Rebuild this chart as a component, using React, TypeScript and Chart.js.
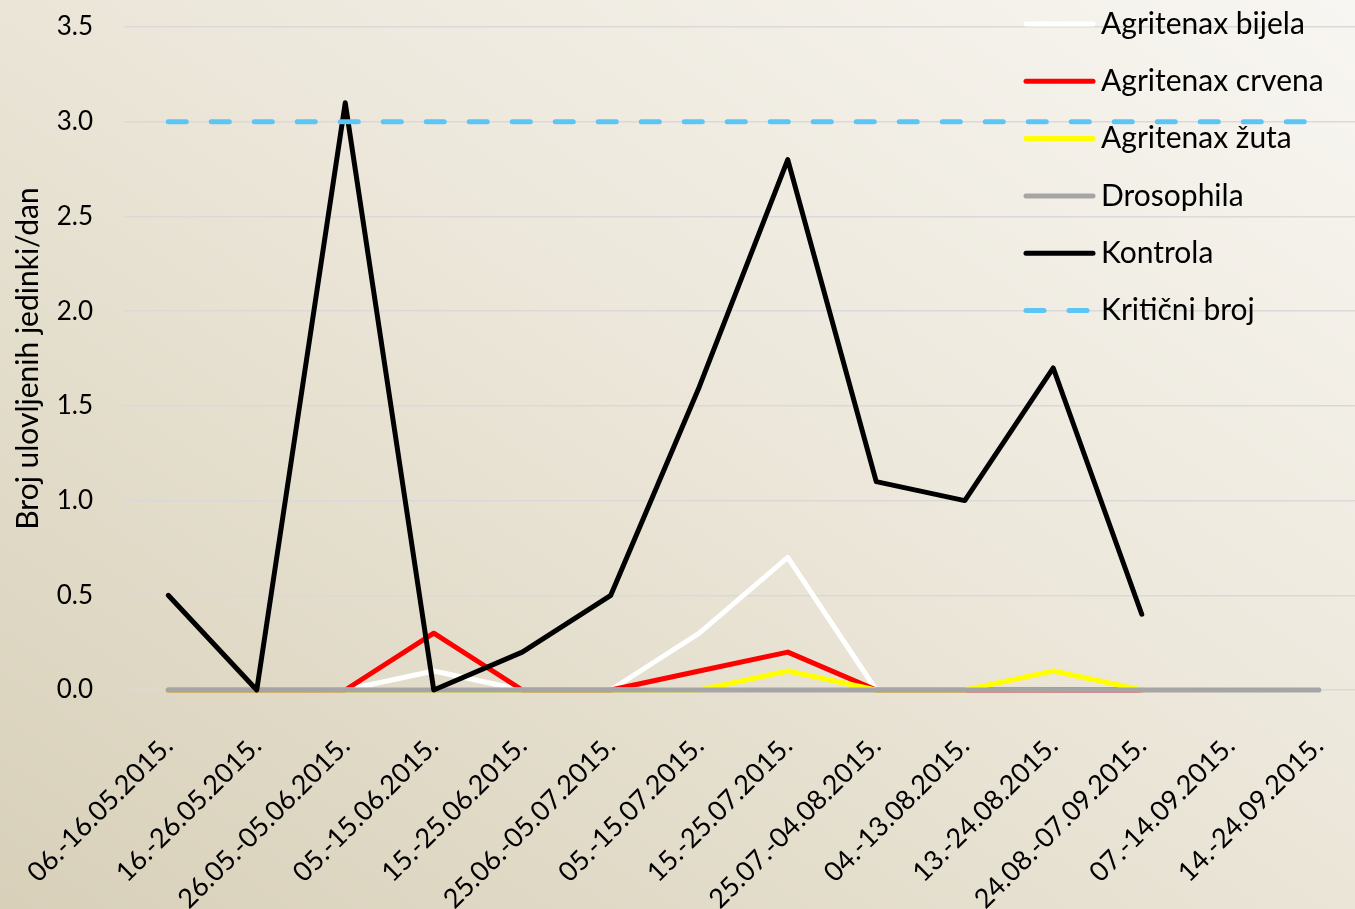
import React, { useEffect, useRef } from "react";
import { Chart, registerables } from "chart.js";

Chart.register(...registerables);

const categories = [
  "06.-16.05.2015.",
  "16.-26.05.2015.",
  "26.05.-05.06.2015.",
  "05.-15.06.2015.",
  "15.-25.06.2015.",
  "25.06.-05.07.2015.",
  "05.-15.07.2015.",
  "15.-25.07.2015.",
  "25.07.-04.08.2015.",
  "04.-13.08.2015.",
  "13.-24.08.2015.",
  "24.08.-07.09.2015.",
  "07.-14.09.2015.",
  "14.-24.09.2015.",
];

const bijela = [0, 0, 0, 0.1, 0, 0, 0.3, 0.7, 0, 0, 0, 0];
const crvena = [0, 0, 0, 0.3, 0, 0, 0.1, 0.2, 0, 0, 0, 0];
const zuta = [0, 0, 0, 0, 0, 0, 0, 0.1, 0, 0, 0.1, 0];
const drosophila = [0, 0, 0, 0, 0, 0, 0, 0, 0, 0, 0, 0, 0, 0];
const kontrola = [0.5, 0, 3.1, 0, 0.2, 0.5, 1.6, 2.8, 1.1, 1.0, 1.7, 0.4];
const kriticni = [3, 3, 3, 3, 3, 3, 3, 3, 3, 3, 3, 3, 3, 3];

const seriesNames = [
  "Agritenax bijela",
  "Agritenax crvena",
  "Agritenax žuta",
  "Drosophila",
  "Kontrola",
  "Kritični broj",
];

const yAxisTitle = "Broj ulovljenih jedinki/dan";
const FONT = "Lato, 'Noto Sans', sans-serif";

const legendPlugin = {
  id: "overlayLegend",
  afterDraw(chart: any) {
    const ctx = chart.ctx;
    const startY = 24;
    const step = 57.3;
    chart.data.datasets.forEach((ds: any, i: number) => {
      const y = startY + i * step;
      ctx.save();
      ctx.strokeStyle = ds.borderColor;
      ctx.lineWidth = 5;
      ctx.lineCap = "round";
      ctx.setLineDash(ds.borderDash ? ds.borderDash : []);
      ctx.beginPath();
      ctx.moveTo(1026, y);
      ctx.lineTo(1093, y);
      ctx.stroke();
      ctx.setLineDash([]);
      ctx.fillStyle = "#000";
      ctx.font = `30px ${FONT}`;
      ctx.textBaseline = "middle";
      ctx.textAlign = "left";
      ctx.fillText(ds.label, 1101, y);
      ctx.restore();
    });
  },
};

export default function App() {
  const canvasRef = useRef<HTMLCanvasElement | null>(null);

  useEffect(() => {
    document.body.style.overflow = "hidden";
    const canvas = canvasRef.current;
    if (!canvas) return;
    const common = {
      fill: false,
      pointRadius: 0,
      pointHoverRadius: 0,
      borderWidth: 5,
      tension: 0,
      clip: false as const,
      borderCapStyle: "round" as const,
      borderJoinStyle: "round" as const,
    };
    const chart = new Chart(canvas, {
      type: "line",
      data: {
        labels: categories,
        datasets: [
          { ...common, label: seriesNames[0], data: bijela, borderColor: "#ffffff", order: 6 },
          { ...common, label: seriesNames[1], data: crvena, borderColor: "#ff0000", order: 5 },
          { ...common, label: seriesNames[2], data: zuta, borderColor: "#ffff00", order: 4 },
          { ...common, label: seriesNames[3], data: drosophila, borderColor: "#a5a5a5", order: 3 },
          { ...common, label: seriesNames[4], data: kontrola, borderColor: "#000000", order: 2 },
          {
            ...common,
            label: seriesNames[5],
            data: kriticni,
            borderColor: "#5bc5f5",
            borderDash: [18, 25],
            order: 1,
          },
        ],
      },
      options: {
        animation: false,
        responsive: false,
        maintainAspectRatio: false,
        layout: { padding: { top: 27, left: 0, right: 0, bottom: 0 } },
        plugins: {
          legend: { display: false },
          tooltip: { enabled: false },
        },
        scales: {
          x: {
            type: "category",
            offset: true,
            grid: { display: false, drawTicks: false },
            border: { display: false },
            ticks: {
              minRotation: 45,
              maxRotation: 45,
              autoSkip: false,
              padding: 40,
              color: "#000",
              font: { family: FONT, size: 27 },
            },
            afterFit(scale: any) {
              scale.height = 219;
              scale.paddingLeft = 0;
              scale.paddingRight = 0;
              scale.paddingTop = 0;
              scale.paddingBottom = 0;
            },
          },
          y: {
            min: 0,
            max: 3.5,
            grid: { color: "#d9d9d9", lineWidth: 1.5, drawTicks: false },
            border: { display: false },
            ticks: {
              stepSize: 0.5,
              padding: 31,
              color: "#000",
              font: { family: FONT, size: 26 },
              callback: (v: any) => Number(v).toFixed(1),
            },
            title: {
              display: true,
              text: yAxisTitle,
              color: "#000",
              font: { family: FONT, size: 30 },
              padding: { top: 10, bottom: 0 },
            },
            afterFit(scale: any) {
              scale.width = 124;
              scale.paddingTop = 0;
              scale.paddingBottom = 0;
              scale.paddingLeft = 0;
              scale.paddingRight = 0;
            },
          },
        },
      },
      plugins: [legendPlugin],
    });
    return () => chart.destroy();
  }, []);

  return (
    <div
      style={{
        position: "fixed",
        left: 0,
        top: 0,
        width: "100vw",
        height: "100vh",
        overflow: "hidden",
        background:
          "linear-gradient(to bottom left, #f8f6f2 0%, #ece7da 45%, #d8d0b9 100%)",
      }}
    >
      <canvas
        ref={canvasRef}
        width={1363}
        height={909}
        style={{ position: "absolute", left: 0, top: 0, width: 1363, height: 909 }}
      />
    </div>
  );
}
